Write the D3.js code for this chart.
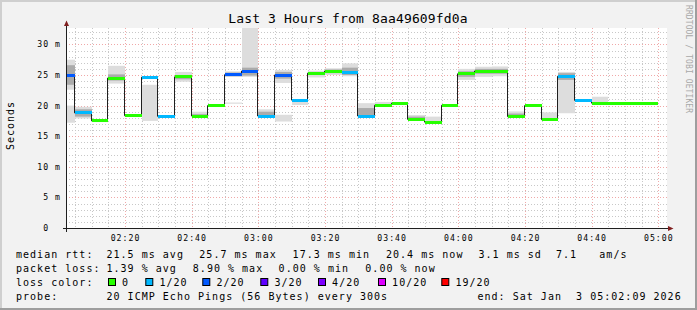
<!DOCTYPE html>
<html>
<head>
<meta charset="utf-8">
<script src="https://cdn.jsdelivr.net/npm/d3@7"></script>
<style>
  body { margin: 0; background: #f2f2f2; }
  svg text { font-family: "DejaVu Sans Mono", monospace; white-space: pre; }
</style>
</head>
<body>
<svg id="chart" width="697" height="310"></svg>
<script>
const width = 697, height = 310;

// 5 minute steps, start of each interval
const startTimes = ["02:00","02:05","02:10","02:15","02:20","02:25","02:30","02:35","02:40","02:45","02:50","02:55",
                    "03:00","03:05","03:10","03:15","03:20","03:25","03:30","03:35","03:40","03:45","03:50","03:55",
                    "04:00","04:05","04:10","04:15","04:20","04:25","04:30","04:35","04:40","04:45","04:50","04:55"];
// median rtt in ms
const medianMs = [25.0, 18.8, 17.5, 24.5, 18.35, 24.65, 18.25, 24.7, 18.3, 20.0, 25.05, 25.65,
                  18.3, 25.0, 20.9, 25.3, 25.65, 25.45, 18.3, 20.05, 20.4, 17.75, 17.3, 20.05,
                  25.2, 25.65, 25.65, 18.2, 20.0, 17.7, 24.8, 20.85, 20.4, 20.4, 20.4, 20.4];
// lost pings out of 20
const lossCount = [2,1,0,0,0,1,1,0,0,0,2,2, 1,2,1,0,0,1,1,0,0,0,0,0, 0,0,0,0,0,0,1,1,0,0,0,0];
// smoke (outer spread and inner spread), ms
const smokeLo = [22.6,17.9,17.3,23.6,18.2,17.5,18.0,23.9,18.1,19.9,24.7,24.7, 18.2,23.7,20.1,24.6,25.0,24.8,18.2,19.9,20.3,17.6,17.2,19.95,
                 24.2,24.7,24.8,18.1,19.9,17.6,18.75,null,20.3,null,null,null];
const smokeHi = [27.5,19.8,17.7,26.5,18.5,23.4,18.4,25.5,19.0,20.1,25.6,34, 19.4,25.8,21.0,25.7,26.1,26.9,20.4,20.6,20.5,18.45,18.2,20.15,
                 26.0,26.35,26.4,19.05,20.2,18.9,25.5,null,21.45,null,null,null];
const coreLo = [23.4,18.2,null,24.1,null,null,null,24.3,18.2,null,24.8,24.9, 18.3,24.4,null,null,25.3,25.0,18.4,null,null,17.7,null,null,
                24.7,25.2,25.2,18.2,null,null,24.2,null,null,null,null,null];
const coreHi = [26.6,19.4,null,25.1,null,null,null,25.0,18.6,null,25.4,26.2, 19.0,25.5,null,null,25.9,26.2,19.6,null,null,18.2,null,null,
                25.6,26.0,26.0,18.7,null,null,25.3,null,null,null,null,null];
// loose smoke patches: [interval, lo, hi]
const straySmoke = [[0, 17.2, 20.0], [10, 20.3, 20.5], [13, 17.4, 18.5]];

const xTicks = ["02:20","02:40","03:00","03:20","03:40","04:00","04:20","04:40","05:00"];
const yTicks = [0, 5, 10, 15, 20, 25, 30];
const yTickLabels = ["0  ", "5 m", "10 m", "15 m", "20 m", "25 m", "30 m"];

const lossLabels = ["0", "1/20", "2/20", "3/20", "4/20", "10/20", "19/20"];
const lossColors = ["#26ff00", "#00b8ff", "#0059ff", "#5e00ff", "#7e00ff", "#dd00ff", "#ff0000"];
const rttStats = ["21.5 ms avg", "25.7 ms max", "17.3 ms min", "20.4 ms now", "3.1 ms sd", "7.1", "am/s"];
const lossStats = ["1.39 % avg", "8.90 % max", "0.00 % min", "0.00 % now"];

const t = s => new Date(Date.UTC(2026, 0, 3, +s.slice(0, 2), +s.slice(3, 5), +(s.slice(6, 8) || 0)));
const step = 300 * 1000;

const plotL = 66.5, plotR = 666.5, plotT = 28, plotB = 228;
const x = d3.scaleUtc().domain([t("02:02:27"), t("05:02:27")]).range([plotL, plotR]);
const y = d3.scaleLinear().domain([0, 32.68]).range([plotB, plotT]);
const px = v => Math.round(v) + 0.5;

const svg = d3.select("#chart");

// frame
svg.append("rect").attr("width", width).attr("height", height).attr("fill", "#f2f2f2");
svg.append("rect").attr("width", width).attr("height", 2).attr("fill", "#cfcfcf");
svg.append("rect").attr("width", 2).attr("height", height).attr("fill", "#cfcfcf");
svg.append("rect").attr("y", height - 2).attr("width", width).attr("height", 2).attr("fill", "#9e9e9e");
svg.append("rect").attr("x", width - 2).attr("width", 2).attr("height", height).attr("fill", "#9e9e9e");

// canvas
svg.append("rect").attr("x", 66).attr("y", plotT).attr("width", 601).attr("height", plotB - plotT).attr("fill", "#fff");

svg.append("defs").append("clipPath").attr("id", "plot")
  .append("rect").attr("x", 66).attr("y", plotT).attr("width", 601).attr("height", plotB - plotT);

// grid
const grid = svg.append("g");
const minorX = x.ticks(d3.utcMinute.every(5));
const majorX = x.ticks(d3.utcMinute.every(20));
grid.selectAll(".vminor").data(minorX).join("line")
  .attr("x1", d => px(x(d))).attr("x2", d => px(x(d)))
  .attr("y1", plotT).attr("y2", plotB)
  .attr("stroke", "#c8c8c8").attr("stroke-dasharray", "1,2");
grid.selectAll(".hminor").data(y.ticks(32).filter(v => v > 0)).join("line")
  .attr("x1", 66).attr("x2", 667)
  .attr("y1", d => px(y(d))).attr("y2", d => px(y(d)))
  .attr("stroke", "#c8c8c8").attr("stroke-dasharray", "1,2");
grid.selectAll(".vmajor").data(majorX).join("line")
  .attr("x1", d => px(x(d))).attr("x2", d => px(x(d)))
  .attr("y1", plotT).attr("y2", plotB)
  .attr("stroke", "#f0a8a8").attr("stroke-dasharray", "1,2");
grid.selectAll(".hmajor").data(yTicks.filter(v => v > 0)).join("line")
  .attr("x1", 66).attr("x2", 667)
  .attr("y1", d => px(y(d))).attr("y2", d => px(y(d)))
  .attr("stroke", "#f0a8a8").attr("stroke-dasharray", "1,2");

// data
const data = startTimes.map((s, i) => ({
  t0: t(s), t1: new Date(+t(s) + step),
  median: medianMs[i], loss: lossCount[i],
  lo: smokeLo[i], hi: smokeHi[i], clo: coreLo[i], chi: coreHi[i]
}));

const plot = svg.append("g").attr("clip-path", "url(#plot)");
const bx0 = d => Math.round(x(d.t0)), bx1 = d => Math.round(x(d.t1));

plot.selectAll(".smoke").data(data.filter(d => d.lo != null)).join("rect")
  .attr("x", bx0).attr("width", d => bx1(d) - bx0(d))
  .attr("y", d => y(d.hi)).attr("height", d => y(d.lo) - y(d.hi))
  .attr("fill", "#dddddd");
plot.selectAll(".stray").data(straySmoke).join("rect")
  .attr("x", d => bx0(data[d[0]])).attr("width", d => bx1(data[d[0]]) - bx0(data[d[0]]))
  .attr("y", d => y(d[2])).attr("height", d => y(d[1]) - y(d[2]))
  .attr("fill", "#dddddd");
plot.selectAll(".core").data(data.filter(d => d.clo != null)).join("rect")
  .attr("x", bx0).attr("width", d => bx1(d) - bx0(d))
  .attr("y", d => y(d.chi)).attr("height", d => y(d.clo) - y(d.chi))
  .attr("fill", "#ababab");

const pts = data.map(d => ({t: d.t0, v: d.median}));
pts.push({t: data[data.length - 1].t1, v: data[data.length - 1].median});
const medianLine = d3.line().x(d => px(x(d.t)) - 1).y(d => y(d.v)).curve(d3.curveStepAfter);
plot.append("path").attr("d", medianLine(pts)).attr("fill", "none").attr("stroke", "#202020").attr("stroke-width", 1);

plot.selectAll(".med").data(data).join("rect")
  .attr("x", bx0).attr("width", d => bx1(d) - bx0(d))
  .attr("y", d => Math.round(y(d.median) - 1.5)).attr("height", 3)
  .attr("fill", d => lossColors[d.loss]);

// axes
svg.append("line").attr("x1", 63).attr("x2", 670).attr("y1", 228.5).attr("y2", 228.5).attr("stroke", "#1f1f1f");
svg.append("line").attr("x1", 66.5).attr("x2", 66.5).attr("y1", 232).attr("y2", 25).attr("stroke", "#1f1f1f");
svg.append("path").attr("d", "M668,226 L673.5,228.5 L668,231 Z").attr("fill", "#801f1f");
svg.append("path").attr("d", "M64,26 L66.5,20.5 L69,26 Z").attr("fill", "#801f1f");

const axisFont = g => g.attr("font-size", "8.2px").attr("letter-spacing", "1px").attr("fill", "#000");
svg.append("g").call(axisFont).selectAll("text").data(xTicks).join("text")
  .attr("x", d => x(t(d)) + 0.5).attr("y", 240.5).attr("text-anchor", "middle").text(d => d);
svg.append("g").call(axisFont).selectAll("text").data(yTicks).join("text")
  .attr("x", 61).attr("y", d => y(d) + 3).attr("text-anchor", "end").text((d, i) => yTickLabels[i]);

// title and labels
svg.append("text").attr("x", 348).attr("y", 23).attr("text-anchor", "middle")
  .attr("font-size", "13px").attr("letter-spacing", "0.16px").text("Last 3 Hours from 8aa49609fd0a");
svg.append("text").attr("transform", "translate(14,125.5) rotate(-90)").attr("text-anchor", "middle")
  .attr("font-size", "10px").attr("letter-spacing", "1px").text("Seconds");
svg.append("text").attr("transform", "translate(685.5,5) rotate(90)")
  .attr("font-size", "8px").attr("letter-spacing", "0.1px").attr("fill", "#a8a8a8").text("RRDTOOL / TOBI OETIKER");

// legend
const legend = svg.append("g").attr("font-size", "10px").attr("letter-spacing", "1.02px").attr("fill", "#000");
const rows = [258.3, 272, 286, 300];
legend.append("text").attr("x", 16).attr("y", rows[0]).text("median rtt:");
const rttX = [106.5, 199.3, 292.6, 386, 478.5, 556, 599.3];
legend.selectAll(".rtt").data(rttStats).join("text").attr("x", (d, i) => rttX[i]).attr("y", rows[0]).text(d => d);
legend.append("text").attr("x", 16).attr("y", rows[1]).text("packet loss:");
const lossX = [106.5, 192.8, 278.6, 365.3];
legend.selectAll(".ls").data(lossStats).join("text").attr("x", (d, i) => lossX[i]).attr("y", rows[1]).text(d => d);
legend.append("text").attr("x", 16).attr("y", rows[2]).text("loss color:");
const boxX = [108.5, 145.8, 202.8, 260.8, 318.5, 378.5, 441.8];
legend.selectAll(".box").data(lossColors).join("rect")
  .attr("x", (d, i) => boxX[i]).attr("y", 278.5).attr("width", 7).attr("height", 7)
  .attr("fill", d => d).attr("stroke", "#000");
legend.selectAll(".ll").data(lossLabels).join("text")
  .attr("x", (d, i) => boxX[i] + 13.6).attr("y", rows[2]).text(d => d);
legend.append("text").attr("x", 16).attr("y", rows[3]).text("probe:");
legend.append("text").attr("x", 106.5).attr("y", rows[3]).text("20 ICMP Echo Pings (56 Bytes) every 300s");
legend.append("text").attr("x", 477.5).attr("y", rows[3]).text("end: Sat Jan  3 05:02:09 2026");
</script>
</body>
</html>
